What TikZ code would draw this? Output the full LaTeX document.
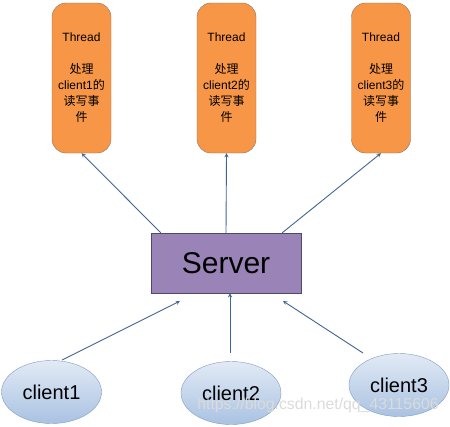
\documentclass[tikz,border=0pt]{standalone}
\usepackage{fontspec}
\setmainfont{Liberation Sans}
\newfontfamily\cjk{Noto Sans CJK SC}
\usetikzlibrary{shapes.geometric}
\definecolor{threadorange}{HTML}{F79646}
\definecolor{threadline}{HTML}{8A7260}
\definecolor{serverpurple}{HTML}{9A83B7}
\definecolor{serverline}{HTML}{4A4A6A}
\definecolor{clienttop}{HTML}{E2EAF5}
\definecolor{clientbot}{HTML}{A9C2E2}
\definecolor{clientline}{HTML}{7F9CC4}
\definecolor{arrowblue}{HTML}{3F6593}
\tikzset{
  thread/.style={draw=threadline, fill=threadorange, rounded corners=14pt,
    minimum width=59pt, minimum height=150pt, align=center,
    font=\fontsize{12}{16}\selectfont},
  client/.style={ellipse, draw=clientline, top color=clienttop, bottom color=clientbot,
    minimum width=100pt, minimum height=63pt, inner sep=0pt,
    font=\fontsize{20}{24}\selectfont},
}
\begin{document}
\begin{tikzpicture}[x=1pt,y=-1pt]
  \useasboundingbox (0,0) rectangle (450,426);
  \node[thread] (t1) at (81.5,78) {Thread\\[16pt]{\cjk 处理}\\client1{\cjk 的}\\{\cjk 读写事}\\{\cjk 件}};
  \node[thread] (t2) at (226.5,78) {Thread\\[16pt]{\cjk 处理}\\client2{\cjk 的}\\{\cjk 读写事}\\{\cjk 件}};
  \node[thread] (t3) at (381,78) {Thread\\[16pt]{\cjk 处理}\\client3{\cjk 的}\\{\cjk 读写事}\\{\cjk 件}};
  \node[draw=serverline, fill=serverpurple, minimum width=150pt, minimum height=60pt,
    font=\fontsize{30}{36}\selectfont] (s) at (226,263) {Server};
  \node[client] (c1) at (51.5,392) {client1};
  \node[client] (c2) at (231,393) {client2};
  \node[client] (c3) at (399,385) {client3};
  \node[text=black!14, font=\fontsize{15.8}{18}\selectfont] (wm) at (318,405) {https://blog.csdn.net/qq\_43115606};
  \path
    (s.north west) ++(10,0) coordinate (s1) (s.north east) ++(-19,0) coordinate (s3);
  \path[-stealth, arrowblue, line width=0.9pt]
    (s1) edge (t1.south)
    (s.north) edge (t2.south)
    (s3) edge (t3.south);
  \coordinate (c1a) at (62,360);
  \coordinate (c3a) at (363,353);
  \coordinate (s4) at (180,301);
  \coordinate (s6) at (283,301);
  \path[-stealth, arrowblue, line width=0.9pt]
    (c1a) edge (s4)
    (c2.north) ++(-1,-8) coordinate (c2a) edge (c2a |- s.south)
    (c3a) edge (s6);
\end{tikzpicture}
\end{document}
